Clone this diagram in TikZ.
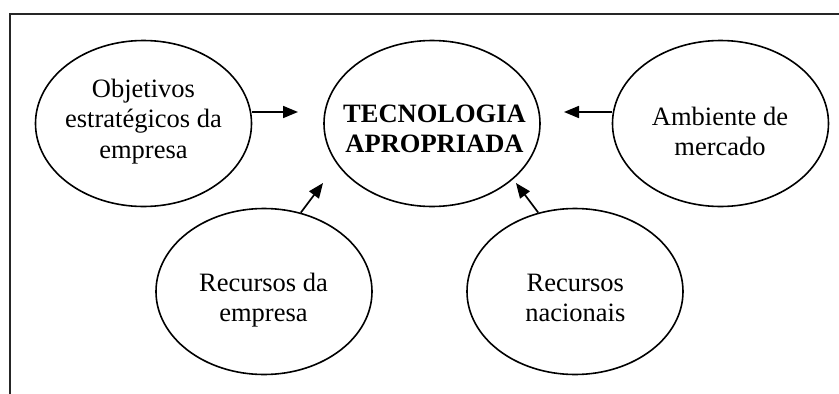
\documentclass[tikz,border=0pt]{standalone}
\usepackage{fontspec}
\setmainfont{Liberation Serif}
\usetikzlibrary{shapes.geometric,arrows.meta}
\begin{document}
\begin{tikzpicture}[x=1pt,y=-1pt,
  bubble/.style={ellipse,draw=black,line width=1.6pt,minimum width=216pt,minimum height=166pt,inner sep=0pt},
  bubbletext/.style={anchor=base,inner sep=0pt,font=\fontsize{26.5}{30.5}\selectfont},
  arr/.style={line width=1.7pt,-{Triangle[length=15pt,width=12pt]}},
  framestyle/.style={line width=1.5pt,draw=black!85}]
\useasboundingbox (0,0) rectangle (839,394);
\draw[framestyle] (10,394) -- (10,14) -- (839,14);

% ellipses
\node[bubble] (obj) at (143.5,123.5) {};
\node[bubble] (tec) at (432,123.5) {};
\node[bubble] (amb) at (720.5,123.5) {};
\node[bubble] (rde) at (264,291.5) {};
\node[bubble] (rn)  at (575,291.5) {};

% texts
\node[bubbletext] (objt) at (143.5,97) {\begin{tabular}[t]{@{}c@{}}Objetivos\\estratégicos da\\empresa\end{tabular}};
\node[bubbletext] (tect) at (434.5,122) {\bfseries\begin{tabular}[t]{@{}c@{}}TECNOLOGIA\\APROPRIADA\end{tabular}};
\node[bubbletext] (ambt) at (720,125) {\begin{tabular}[t]{@{}c@{}}Ambiente de\\mercado\end{tabular}};
\node[bubbletext] (rdet) at (263.5,291) {\begin{tabular}[t]{@{}c@{}}Recursos da\\empresa\end{tabular}};
\node[bubbletext] (rnt)  at (575.3,291) {\begin{tabular}[t]{@{}c@{}}Recursos\\nacionais\end{tabular}};

% arrow ends
\coordinate (t1) at (298,112);
\coordinate (t2) at (564,112);
\coordinate (t3) at (323,183);
\coordinate (t4) at (516,183);

\draw[arr] (obj.east |- t1) -- (t1);
\draw[arr] (amb.west |- t2) -- (t2);
\draw[arr] (rde.65) -- (t3);
\draw[arr] (rn.115) -- (t4);
\end{tikzpicture}
\end{document}
